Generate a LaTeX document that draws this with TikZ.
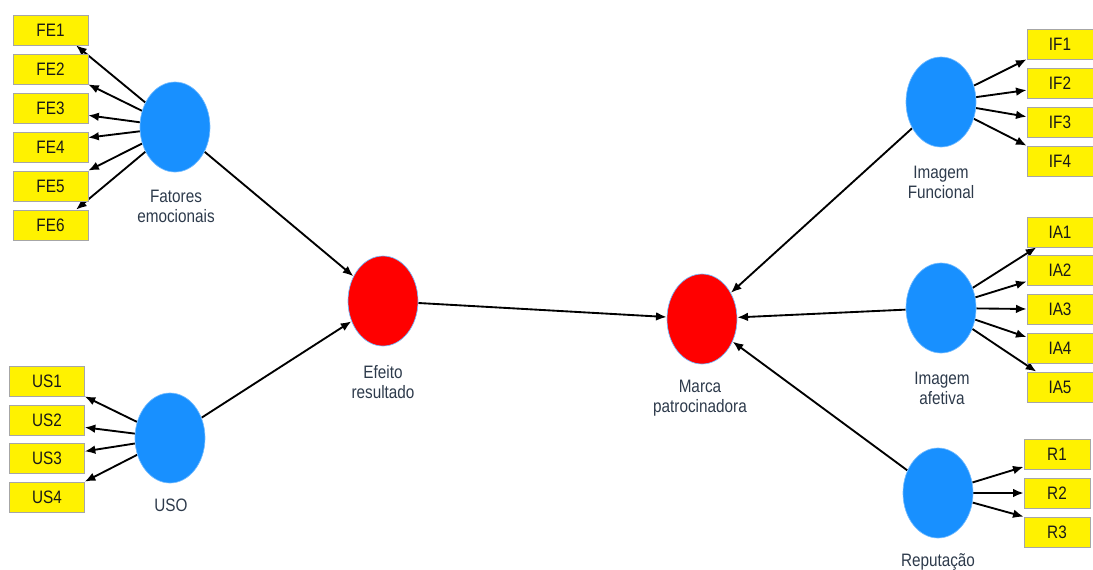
\documentclass[tikz,border=0pt]{standalone}
\usepackage{fontspec}
\setmainfont{Liberation Sans}[FakeStretch=0.85]
\usetikzlibrary{shapes.geometric,arrows.meta,backgrounds}
\definecolor{latblue}{RGB}{24,144,255}
\definecolor{labgray}{RGB}{45,58,75}
\tikzset{
  lat/.style={ellipse,minimum width=52.5pt,minimum height=67.5pt,inner sep=0pt,fill=latblue,draw=latblue!60!white,line width=0.5pt},
  endo/.style={lat,fill=red},
  ind/.style={rectangle,minimum width=56pt,minimum height=22.5pt,inner sep=0pt,fill=yellow,draw=black!35,line width=0.5pt,text=black!90,font=\fontsize{13.5}{15}\selectfont},
  indr/.style={ind,minimum width=49.5pt},
  lbl/.style={align=center,text=labgray,font=\fontsize{13.5}{15}\selectfont},
  arr/.style={-{Latex[length=8pt,width=6.5pt]},line width=1.4pt}
}
\begin{document}
\begin{tikzpicture}[x=0.75pt,y=-0.75pt]
\useasboundingbox (0,0) rectangle (1093,569);

% latent variables
\node[lat] (fe) at (175,127) {};
\node[lat] (us) at (170,438) {};
\node[endo] (er) at (383,301) {};
\node[endo] (mp) at (702,319) {};
\node[lat] (if) at (941,102) {};
\node[lat] (ia) at (941,308) {};
\node[lat] (rp) at (938,493) {};

\node[lbl] (fel) at (176,206) {Fatores\\emocionais};
\node[lbl] (usl) at (171,505) {USO};
\node[lbl] (erl) at (383,382) {Efeito\\resultado};
\node[lbl] (mpl) at (700,398) {Marca\\patrocinadora};
\node[lbl] (ifl) at (941,182) {Imagem\\Funcional};
\node[lbl] (ial) at (942,388) {Imagem\\afetiva};
\node[lbl] (rpl) at (938,562) {Reputação};

% indicators
\node[ind] (fe1) at (50.5,30) {FE1};
\node[ind] (fe2) at (50.5,69) {FE2};
\node[ind] (fe3) at (50.5,108) {FE3};
\node[ind] (fe4) at (50.5,147) {FE4};
\node[ind] (fe5) at (50.5,186) {FE5};
\node[ind] (fe6) at (50.5,225) {FE6};

\node[ind] (us1) at (47,381) {US1};
\node[ind] (us2) at (47,420) {US2};
\node[ind] (us3) at (47,458) {US3};
\node[ind] (us4) at (47,497) {US4};

\node[indr] (if1) at (1060,44) {IF1};
\node[indr] (if2) at (1060,83) {IF2};
\node[indr] (if3) at (1060,122) {IF3};
\node[indr] (if4) at (1060,161) {IF4};

\node[indr] (ia1) at (1060,232) {IA1};
\node[indr] (ia2) at (1060,270) {IA2};
\node[indr] (ia3) at (1060,309) {IA3};
\node[indr] (ia4) at (1060,348) {IA4};
\node[indr] (ia5) at (1060,387) {IA5};

\node[indr] (r1) at (1057,454) {R1};
\node[indr] (r2) at (1057,493) {R2};
\node[indr] (r3) at (1057,532) {R3};

\begin{scope}[on background layer]
% measurement arrows
\draw[arr] (fe) -- (fe1.-31);
\draw[arr] (fe) -- (fe2.south east);
\draw[arr] (fe) -- (fe3.-11);
\draw[arr] (fe) -- (fe4.14);
\draw[arr] (fe) -- (fe5.north east);
\draw[arr] (fe) -- (fe6.31);

\draw[arr] (us) -- (us1.south east);
\draw[arr] (us) -- (us2.-11);
\draw[arr] (us) -- (us3.10);
\draw[arr] (us) -- (us4.north east);

\draw[arr] (if) -- (if1.south west);
\draw[arr] (if) -- (if2.192);
\draw[arr] (if) -- (if3.171);
\draw[arr] (if) -- (if4.north west);

\draw[arr] (ia) -- (ia1.213);
\draw[arr] (ia) -- (ia2.199);
\draw[arr] (ia) -- (ia3.west);
\draw[arr] (ia) -- (ia4.162);
\draw[arr] (ia) -- (ia5.147);

\draw[arr] (rp) -- (r1.201);
\draw[arr] (rp) -- (r2.west);
\draw[arr] (rp) -- (r3.north west);

% structural arrows
\draw[arr] (fe) -- (er);
\draw[arr] (us) -- (er);
\draw[arr] (er) -- (mp);
\draw[arr] (if) -- (mp);
\draw[arr] (ia) -- (mp);
\draw[arr] (rp) -- (mp);
\end{scope}
\end{tikzpicture}
\end{document}
